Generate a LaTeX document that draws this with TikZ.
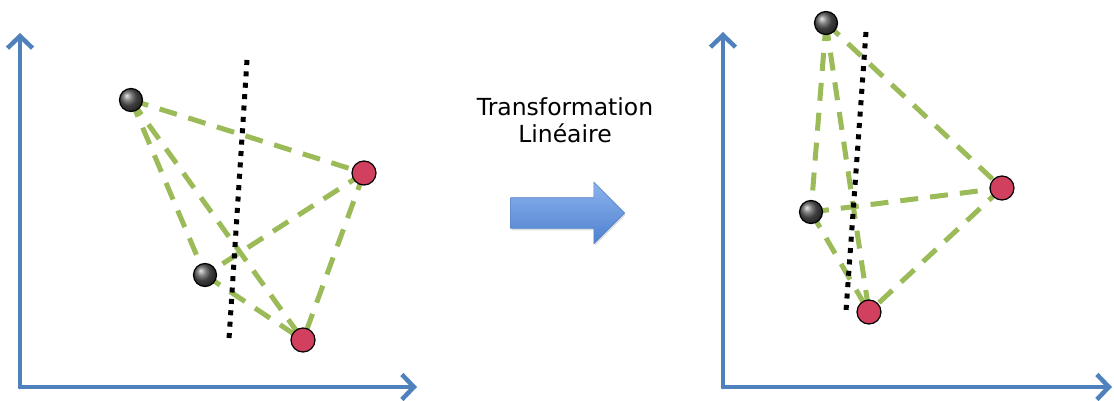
\documentclass[tikz,border=0pt]{standalone}
\usepackage{fontspec}
\setmainfont{DejaVu Sans}
\usetikzlibrary{arrows.meta,shapes.arrows,shadows,shadings}
\definecolor{axisblue}{HTML}{4F81BD}
\definecolor{edgegreen}{HTML}{9BBB59}
\definecolor{ptred}{HTML}{D1405F}
\definecolor{arrtop}{HTML}{8DB3EE}
\definecolor{arrbot}{HTML}{4D80CF}
\definecolor{arredge}{HTML}{5A86C8}
\tikzset{
  axis/.style={draw=axisblue, line width=4.5pt, line cap=round, line join=round,
    -{Straight Barb[length=12pt,width=25pt,line width=4.5pt]}},
  edge/.style={draw=edgegreen, line width=5pt, dash pattern=on 18pt off 12pt},
  sep/.style={draw=black, line width=5pt, dash pattern=on 5pt off 6.4pt},
  blackpt/.style={circle, minimum size=23pt, inner sep=0pt, draw=black, line width=1.2pt, ball color=black!65},
  redpt/.style={circle, minimum size=24pt, inner sep=0pt, draw=black, line width=1.2pt, fill=ptred},
  label/.style={font=\fontsize{23.5}{27}\selectfont, align=center, inner sep=0pt},
  bigarrow/.style={single arrow, single arrow head extend=15.5pt, single arrow tip angle=90,
    minimum height=114pt, inner xsep=0pt, inner ysep=15pt, draw=arredge, line width=0.6pt,
    top color=arrtop, bottom color=arrbot,
    drop shadow={opacity=0.25, shadow xshift=1pt, shadow yshift=-2pt}}
}
\begin{document}
\begin{tikzpicture}[x=1pt,y=-1pt]
\useasboundingbox (0,0) rectangle (1114,401);
% left axes
\coordinate (o1) at (20,387);
\coordinate (y1) at (20,33);
\coordinate (x1) at (417,387);
\draw[axis] (o1) -- (y1);
\draw[axis] (o1) -- (x1);
% left points
\coordinate (lb1) at (131,100);
\coordinate (lr1) at (364,173);
\coordinate (lb2) at (205,275);
\coordinate (lr2) at (303,340);
\draw[edge] (lb1) -- (lr1);
\draw[edge] (lb1) -- (lb2);
\draw[edge] (lb1) -- (lr2);
\draw[edge] (lr1) -- (lb2);
\draw[edge] (lr1) -- (lr2);
\draw[edge] (lb2) -- (lr2);
\coordinate (ls1) at (247,60);
\coordinate (ls2) at (229,339);
\draw[sep] (ls1) -- (ls2);
\node[blackpt] (LB1) at (lb1) {};
\node[blackpt] (LB2) at (lb2) {};
\node[redpt] (LR1) at (lr1) {};
\node[redpt] (LR2) at (lr2) {};
% middle
\node[label] (lab) at (565,120) {Transformation\\Linéaire};
\node[bigarrow] (arr) at (560,213) {};
% right axes
\coordinate (o2) at (723,387);
\coordinate (y2) at (723,32);
\coordinate (x2) at (1112,387);
\draw[axis] (o2) -- (y2);
\draw[axis] (o2) -- (x2);
\coordinate (rb1) at (826,23);
\coordinate (rr1) at (1002,188);
\coordinate (rb2) at (811,212);
\coordinate (rr2) at (869,312);
\draw[edge] (rb1) -- (rr1);
\draw[edge] (rb1) -- (rb2);
\draw[edge] (rb1) -- (rr2);
\draw[edge] (rb2) -- (rr1);
\draw[edge] (rb2) -- (rr2);
\draw[edge] (rr1) -- (rr2);
\coordinate (rs1) at (866,32);
\coordinate (rs2) at (846,311);
\draw[sep] (rs1) -- (rs2);
\node[blackpt] (RB1) at (rb1) {};
\node[blackpt] (RB2) at (rb2) {};
\node[redpt] (RR1) at (rr1) {};
\node[redpt] (RR2) at (rr2) {};
\end{tikzpicture}
\end{document}
